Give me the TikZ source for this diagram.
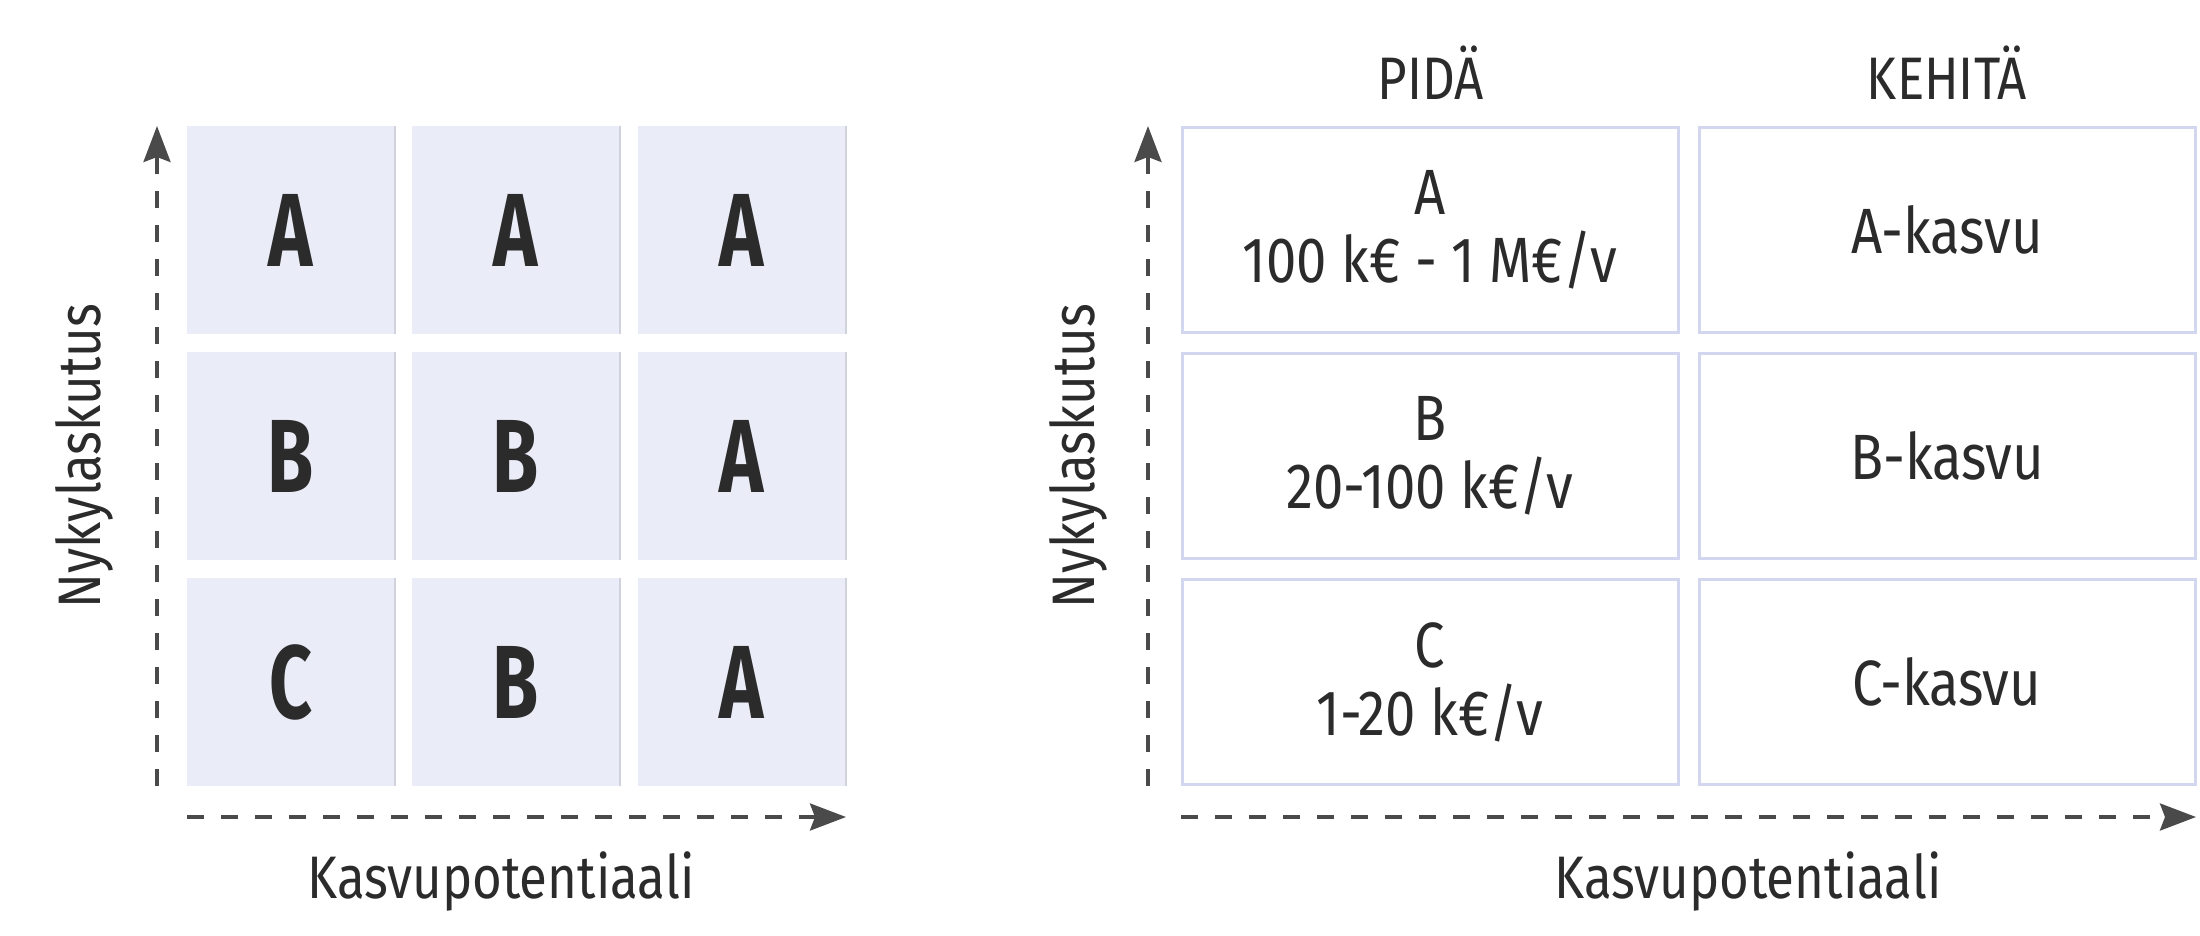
\documentclass[tikz,border=0pt]{standalone}
\usepackage{fontspec}
\setmainfont{Fira Sans}[FakeStretch=0.85]
\newfontfamily\bigletters{Fira Sans}[FakeStretch=0.72]
\usetikzlibrary{arrows.meta}
\definecolor{ink}{HTML}{2B2B2B}
\definecolor{axisc}{HTML}{4A4A4A}
\definecolor{cellfill}{HTML}{EAECF8}
\definecolor{cellline}{HTML}{D2D6EE}
\definecolor{edgec}{HTML}{D0D2DC}
\begin{document}
\begin{tikzpicture}[x=1pt,y=-1pt,
 fcell/.style={rectangle, fill=cellfill, minimum width=208pt, minimum height=208pt, inner sep=0pt, text=ink, font=\bigletters\fontsize{104}{104}\selectfont\bfseries},
 ocell/.style={rectangle, draw=cellline, line width=3pt, fill=white, minimum width=496pt, minimum height=205pt, inner sep=0pt, text=ink, align=center, font=\fontsize{64}{68}\selectfont},
 axis/.style={draw=axisc, line width=3.5pt, dash pattern=on 17pt off 17pt, -{Stealth[length=36pt,width=27pt,inset=5pt]}},
 lbl/.style={text=ink, font=\fontsize{60}{60}\selectfont, inner sep=0pt},
]
\useasboundingbox[fill=white] (0,0) rectangle (2200,935);

% ---------- left panel ----------
\node[fcell] (l11) at (291,230) {A};
\node[fcell] (l12) at (516,230) {A};
\node[fcell] (l13) at (742,230) {A};
\node[fcell] (l21) at (291,456) {B};
\node[fcell] (l22) at (516,456) {B};
\node[fcell] (l23) at (742,456) {A};
\node[fcell] (l31) at (291,682) {C};
\node[fcell] (l32) at (516,682) {B};
\node[fcell] (l33) at (742,682) {A};
\foreach \n in {l11,l12,l13,l21,l22,l23,l31,l32,l33}
  \draw[edgec, line width=1.5pt] (\n.north east) -- (\n.south east);

\coordinate (lvs) at (157,786);
\coordinate (lve) at (157,126);
\coordinate (lhs) at (187,817);
\coordinate (lhe) at (846,817);
\draw[axis] (lvs) -- (lve);
\draw[axis] (lhs) -- (lhe);

\node[lbl, rotate=90] (lylab) at (84,456) {Nykylaskutus};
\node[lbl] (lxlab) at (501,881) {Kasvupotentiaali};

% ---------- right panel ----------
\node[lbl] (hpida) at (1431,73) {PIDÄ};
\node[lbl] (hkehita) at (1947,73) {KEHITÄ};

\node[ocell] (r11) at (1430,230) {A\\100 k€ - 1 M€/v};
\node[ocell] (r12) at (1947,230) {A-kasvu};
\node[ocell] (r21) at (1430,456) {B\\20-100 k€/v};
\node[ocell] (r22) at (1947,456) {B-kasvu};
\node[ocell] (r31) at (1430,682) {C\\1-20 k€/v};
\node[ocell] (r32) at (1947,682) {C-kasvu};

\coordinate (rvs) at (1148,786);
\coordinate (rve) at (1148,126);
\coordinate (rhs) at (1181,817);
\coordinate (rhe) at (2196,817);
\draw[axis] (rvs) -- (rve);
\draw[axis] (rhs) -- (rhe);

\node[lbl, rotate=90] (rylab) at (1078,456) {Nykylaskutus};
\node[lbl] (rxlab) at (1748,881) {Kasvupotentiaali};
\end{tikzpicture}
\end{document}
